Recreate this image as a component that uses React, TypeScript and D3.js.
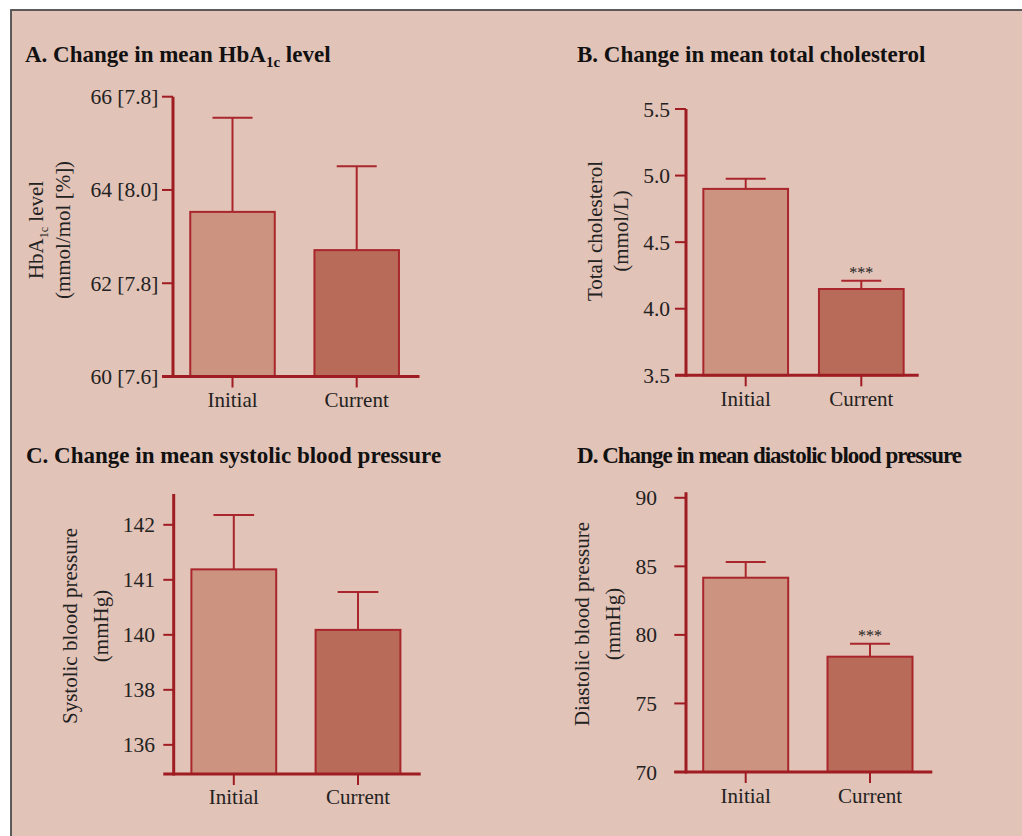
import React from "react";
import * as d3 from "d3";

// ---------- data ----------
const categories = ["Initial", "Current"];

const hba1cMean = [63.53, 62.71];
const hba1cErr = [2.02, 1.8];
const hba1cTicks = [60, 62, 64, 66];
const hba1cTickLabels = ["60 [7.6]", "62 [7.8]", "64 [8.0]", "66 [7.8]"];
const hba1cDomain = [60, 66];

const cholMean = [4.9, 4.148];
const cholErr = [0.077, 0.062];
const cholTicks = [3.5, 4.0, 4.5, 5.0, 5.5];
const cholTickLabels = ["3.5", "4.0", "4.5", "5.0", "5.5"];
const cholDomain = [3.5, 5.5];
const cholSig = ["", "***"];

// systolic axis: evenly spaced ticks labelled as in the original figure
const sbpMean = [141.19, 140.09];
const sbpErr = [0.99, 0.69];
const sbpTicks = [138, 139, 140, 141, 142];
const sbpTickLabels = ["136", "138", "140", "141", "142"];
const sbpDomain = [137.47, 142.56];

const dbpMean = [84.17, 78.41];
const dbpErr = [1.15, 0.95];
const dbpTicks = [70, 75, 80, 85, 90];
const dbpTickLabels = ["70", "75", "80", "85", "90"];
const dbpDomain = [70, 90.4];
const dbpSig = ["", "***"];

// ---------- style ----------
const BG = "#E2C3B7";
const AXIS = "#A01C23";
const EDGE = "#A8262C";
const FILLS = ["#CD9381", "#B96B59"];
const FONT = "'Liberation Serif', 'Times New Roman', serif";

type Layout = {
  axisX: number; yTop: number; yBottom: number; tickX0: number; xAxisEnd: number;
  x0: number; x1: number; barW: number; capW: number; tickLabelX: number; xLabelY: number;
  titleX: number; titleY: number; titleLen?: number; ylab1X: number; ylab2X: number; ylabY: number;
};

const layoutA: Layout = { axisX: 173, yTop: 96.7, yBottom: 376.5, tickX0: 162, xAxisEnd: 419.5, x0: 232.5, x1: 356.7, barW: 84.5, capW: 40, tickLabelX: 158.5, xLabelY: 406.7, titleX: 25, titleY: 62.3, ylab1X: 42.5, ylab2X: 70, ylabY: 230 };
const layoutB: Layout = { axisX: 686, yTop: 109, yBottom: 375.3, tickX0: 675, xAxisEnd: 918.7, x0: 745.7, x1: 861.3, barW: 84.7, capW: 40, tickLabelX: 670, xLabelY: 405.7, titleX: 577, titleY: 62.3, ylab1X: 601.5, ylab2X: 627.8, ylabY: 231 };
const layoutC: Layout = { axisX: 173.7, yTop: 494, yBottom: 774, tickX0: 163.3, xAxisEnd: 420.7, x0: 233.8, x1: 358, barW: 84.8, capW: 40.7, tickLabelX: 155, xLabelY: 804, titleX: 26, titleY: 463.3, ylab1X: 77.2, ylab2X: 107.8, ylabY: 626 };
const layoutD: Layout = { axisX: 686, yTop: 492.3, yBottom: 772, tickX0: 674.3, xAxisEnd: 932.3, x0: 745.7, x1: 870, barW: 85, capW: 40, tickLabelX: 657, xLabelY: 803, titleX: 577, titleY: 463, titleLen: 385, ylab1X: 588.7, ylab2X: 619.5, ylabY: 624 };

type PanelProps = {
  L: Layout;
  title: React.ReactNode;
  ylab1: React.ReactNode;
  ylab2: string;
  mean: number[];
  err: number[];
  ticks: number[];
  tickLabels: string[];
  domain: number[];
  sig?: string[];
};

function Panel({ L, title, ylab1, ylab2, mean, err, ticks, tickLabels, domain, sig }: PanelProps) {
  const y = d3.scaleLinear().domain(domain).range([L.yBottom, L.yTop]);
  const x = d3.scalePoint<string>().domain(categories).range([L.x0, L.x1]);
  const lenProps = L.titleLen ? { textLength: L.titleLen, lengthAdjust: "spacing" } : {};
  return (
    <g>
      <text x={L.titleX} y={L.titleY} fontFamily={FONT} fontWeight="bold" fontSize={23} fill="#111" {...lenProps}>
        {title}
      </text>
      <g transform={`translate(${L.ylab1X},${L.ylabY}) rotate(-90)`}>
        <text textAnchor="middle" fontFamily={FONT} fontSize={21} fill="#222">{ylab1}</text>
      </g>
      <g transform={`translate(${L.ylab2X},${L.ylabY}) rotate(-90)`}>
        <text textAnchor="middle" fontFamily={FONT} fontSize={21} fill="#222">{ylab2}</text>
      </g>
      {categories.map((c, i) => {
        const cx = x(c) as number;
        const top = y(mean[i]);
        const et = y(mean[i] + err[i]);
        return (
          <g key={c}>
            <line x1={cx} x2={cx} y1={top} y2={et} stroke={EDGE} strokeWidth={2} />
            <line x1={cx - L.capW / 2} x2={cx + L.capW / 2} y1={et} y2={et} stroke={EDGE} strokeWidth={2} />
            <rect x={cx - L.barW / 2} y={top} width={L.barW} height={L.yBottom - top} fill={FILLS[i]} stroke={EDGE} strokeWidth={2} />
            {sig && sig[i] ? (
              <text x={cx} y={et - 2.5} textAnchor="middle" fontFamily={FONT} fontSize={16} fill="#222">{sig[i]}</text>
            ) : null}
            <line x1={cx} x2={cx} y1={L.yBottom} y2={L.yBottom + 11} stroke={AXIS} strokeWidth={2} />
            <text x={cx} y={L.xLabelY} textAnchor="middle" fontFamily={FONT} fontSize={21} fill="#222">{c}</text>
          </g>
        );
      })}
      {ticks.map((t, i) => (
        <g key={t}>
          <line x1={L.tickX0} x2={L.axisX} y1={y(t)} y2={y(t)} stroke={AXIS} strokeWidth={2} />
          <text x={L.tickLabelX} y={y(t) + 7.5} textAnchor="end" fontFamily={FONT} fontSize={21.5} fill="#222">{tickLabels[i]}</text>
        </g>
      ))}
      <line x1={L.axisX} x2={L.axisX} y1={L.yTop} y2={L.yBottom + 1.5} stroke={AXIS} strokeWidth={3} />
      <line x1={L.tickX0} x2={L.xAxisEnd} y1={L.yBottom} y2={L.yBottom} stroke={AXIS} strokeWidth={3} />
    </g>
  );
}

export default function App() {
  return (
    <svg width={1022} height={836} style={{ position: "absolute", left: 0, top: 0, display: "block" }}>
      <rect x={0} y={0} width={1022} height={836} fill="#fff" />
      <rect x={11} y={10} width={1030} height={840} fill={BG} stroke="#4d4d4d" strokeWidth={1.8} />
      <Panel
        L={layoutA}
        title={<>A. Change in mean HbA<tspan fontSize={15} dy={5}>1c</tspan><tspan dy={-5}> level</tspan></>}
        ylab1={<>HbA<tspan fontSize={12} dy={5}>1c</tspan><tspan dy={-5}> level</tspan></>}
        ylab2="(mmol/mol [%])"
        mean={hba1cMean}
        err={hba1cErr}
        ticks={hba1cTicks}
        tickLabels={hba1cTickLabels}
        domain={hba1cDomain}
      />
      <Panel
        L={layoutB}
        title="B. Change in mean total cholesterol"
        ylab1="Total cholesterol"
        ylab2="(mmol/L)"
        mean={cholMean}
        err={cholErr}
        ticks={cholTicks}
        tickLabels={cholTickLabels}
        domain={cholDomain}
        sig={cholSig}
      />
      <Panel
        L={layoutC}
        title="C. Change in mean systolic blood pressure"
        ylab1="Systolic blood pressure"
        ylab2="(mmHg)"
        mean={sbpMean}
        err={sbpErr}
        ticks={sbpTicks}
        tickLabels={sbpTickLabels}
        domain={sbpDomain}
      />
      <Panel
        L={layoutD}
        title="D. Change in mean diastolic blood pressure"
        ylab1="Diastolic blood pressure"
        ylab2="(mmHg)"
        mean={dbpMean}
        err={dbpErr}
        ticks={dbpTicks}
        tickLabels={dbpTickLabels}
        domain={dbpDomain}
        sig={dbpSig}
      />
    </svg>
  );
}
